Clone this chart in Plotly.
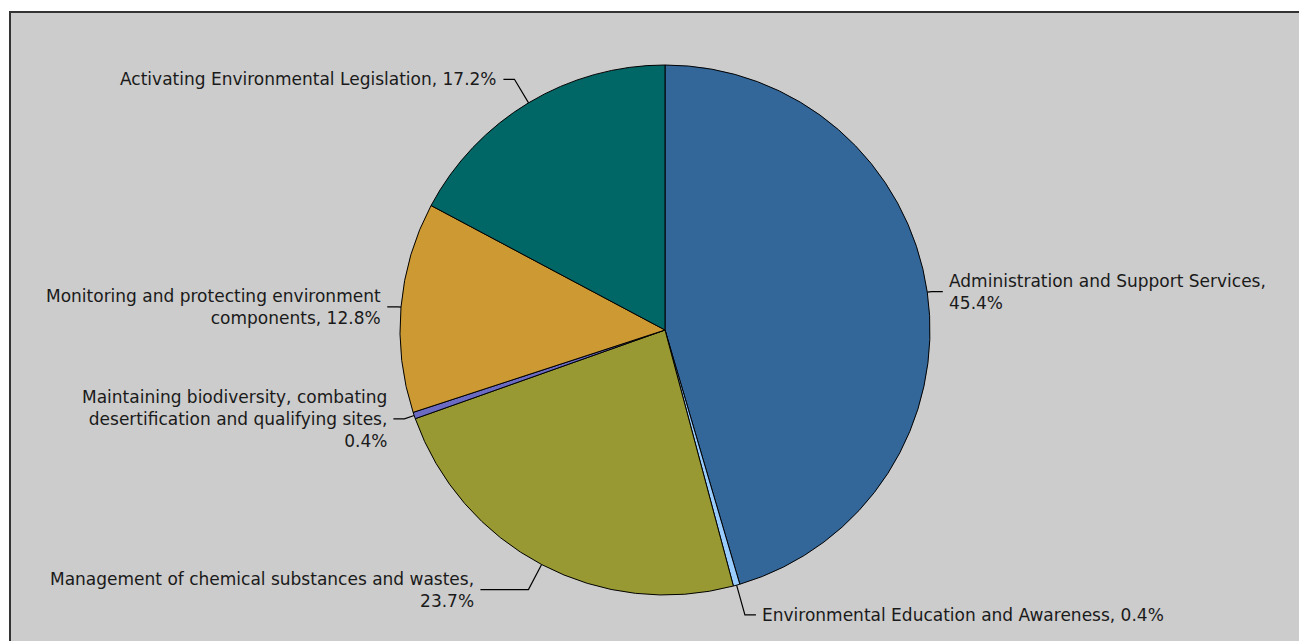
import math
import plotly.graph_objects as go

# ---- data ----
categories = [
    "Administration and Support Services",
    "Environmental Education and Awareness",
    "Management of chemical substances and wastes",
    "Maintaining biodiversity, combating desertification and qualifying sites",
    "Monitoring and protecting environment components",
    "Activating Environmental Legislation",
]
values = [45.4, 0.4, 23.7, 0.4, 12.8, 17.2]
label_lines = [
    ["Administration and Support Services,"],
    ["Environmental Education and Awareness,"],
    ["Management of chemical substances and wastes,"],
    ["Maintaining biodiversity, combating", "desertification and qualifying sites,"],
    ["Monitoring and protecting environment", "components,"],
    ["Activating Environmental Legislation,"],
]
# whether the percentage goes on its own line
pct_newline = [True, False, True, True, False, False]
colors = ["#336699", "#99CCFF", "#999933", "#6B6BC4", "#CC9933", "#006666"]

# ---- layout geometry (pixels in the screenshot) ----
W, H = 1307, 641
OFF = 8  # default page body margin
FW, FH = W, H
cx, cy, r = 665, 330, 265
radial_ext = 32
leader_default = 11
leader_override = {categories[2]: 48}
gap = 4
font = dict(family="DejaVu Sans", size=17, color="#1a1a1a")


def px(x):
    return (x - OFF) / FW


def py(y):
    return 1 - (y - OFF) / FH


fig = go.Figure()
fig.add_trace(go.Pie(
    labels=categories,
    values=values,
    sort=False,
    direction="clockwise",
    rotation=0,
    marker=dict(colors=colors, line=dict(color="#000000", width=1)),
    textinfo="none",
    hoverinfo="label+percent",
    showlegend=False,
    domain=dict(x=[px(cx - r), px(cx + r)], y=[py(cy + r), py(cy - r)]),
))

shapes = [dict(
    type="rect", xref="paper", yref="paper", layer="below",
    x0=px(10), x1=px(W + 20), y0=py(12), y1=py(H + 20),
    fillcolor="#CCCCCC", line=dict(color="#333333", width=2),
)]
annotations = []

total = sum(values)
cum = 0.0
for cat, v, lines, nl in zip(categories, values, label_lines, pct_newline):
    mid = (cum + v / 2) / total * 2 * math.pi
    cum += v
    dx, dy = math.sin(mid), -math.cos(mid)
    p0 = (cx + r * dx, cy + r * dy)
    ext = radial_ext * abs(math.cos(mid))
    e = (cx + (r + ext) * dx, cy + (r + ext) * dy)
    side = 1 if dx >= 0 else -1
    L = leader_override.get(cat, leader_default)
    h = (e[0] + side * L, e[1])
    shapes.append(dict(
        type="path", xref="paper", yref="paper", layer="above",
        path=f"M {px(p0[0])},{py(p0[1])} L {px(e[0])},{py(e[1])} L {px(h[0])},{py(h[1])}",
        line=dict(color="#000000", width=1.2),
    ))
    pct = f"{v:.1f}%"
    if nl:
        text = "<br>".join(lines + [pct])
    else:
        text = "<br>".join(lines[:-1] + [lines[-1] + " " + pct])
    annotations.append(dict(
        xref="paper", yref="paper", showarrow=False,
        x=px(h[0] + side * gap), y=py(h[1]),
        xanchor="left" if side > 0 else "right", yanchor="middle",
        align="left" if side > 0 else "right",
        text=text, font=font,
    ))

fig.update_layout(
    width=FW, height=FH,
    margin=dict(l=0, r=0, t=0, b=0),
    paper_bgcolor="#FFFFFF",
    shapes=shapes,
    annotations=annotations,
)

fig.write_html(
    "out.html",
    post_script="document.documentElement.style.overflow='hidden';document.body.style.overflow='hidden';",
)
